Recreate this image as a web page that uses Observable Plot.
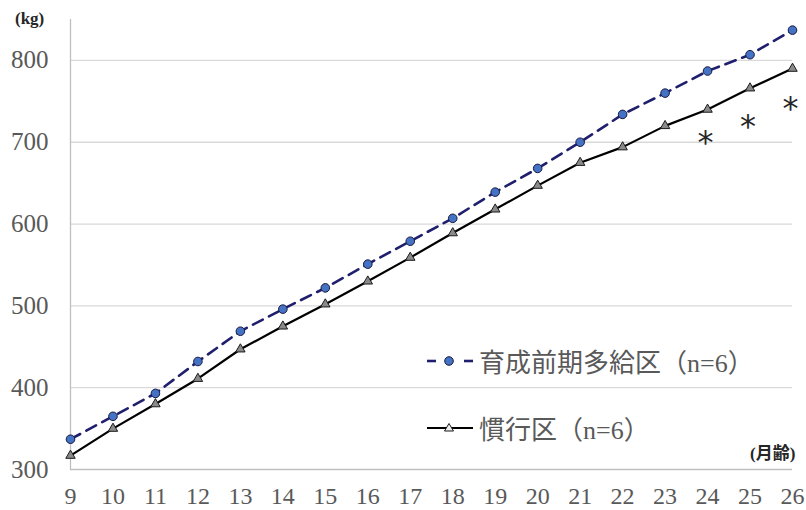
<!DOCTYPE html>
<html><head><meta charset="utf-8">
<script src="https://cdn.jsdelivr.net/npm/d3@7"></script>
<script src="https://cdn.jsdelivr.net/npm/@observablehq/plot@0.6"></script>
<style>
body{margin:0;background:#fff;}
#wrap{position:relative;width:806px;height:510px;overflow:hidden;}
.lab{position:absolute;font-weight:bold;color:#262626;white-space:nowrap;}
.leg{position:absolute;left:427px;display:flex;align-items:center;font-family:"Liberation Serif","Noto Sans CJK JP",serif;font-size:26px;color:#595959;white-space:nowrap;}
.leg svg{margin-right:6px;}
</style></head><body><div id="wrap"></div>
<script>
const months = [9,10,11,12,13,14,15,16,17,18,19,20,21,22,23,24,25,26];
const seriesNames = ["育成前期多給区（n=6）", "慣行区（n=6）"];
const weightHigh = [337,365,393,432,469,496,522,551,579,607,639,668,700,734,760,787,807,837];
const weightConv = [317,350,380,411,447,475,502,530,559,589,618,647,675,694,720,740,766,790];
const sigMonths = [24,25,26];
const sigY = [708,728,750];
const yTicks = [300,400,500,600,700,800];
const yLabel = "(kg)";
const xLabel = "(月齢)";

const dataHigh = months.map((m,i)=>({month:m, w:weightHigh[i]}));
const dataConv = months.map((m,i)=>({month:m, w:weightConv[i]}));
const sig = sigMonths.map((m,i)=>({month:m, w:sigY[i]}));

const navy = "#1f1f6e";
const plot = Plot.plot({
  width:806, height:510,
  marginLeft:70, marginRight:14, marginTop:19, marginBottom:41,
  x:{domain:[9,26], label:null},
  y:{domain:[300,850], label:null},
  style:{fontFamily:"'Liberation Serif', serif", background:"white"},
  marks:[
    Plot.gridY(yTicks.filter(d=>d>300), {stroke:"#d9d9d9", strokeOpacity:1, strokeWidth:1.3}),
    Plot.ruleY([300], {stroke:"#bfbfbf", strokeWidth:1.3}),
    Plot.ruleX([9], {y1:300, y2:850, stroke:"#bfbfbf", strokeWidth:1.3}),
    Plot.axisX({ticks:months, tickSize:0, tickPadding:17, tickFormat:d=>String(d), fontSize:24, fill:"#595959"}),
    Plot.axisY({ticks:yTicks, tickSize:0, tickPadding:22, tickFormat:d=>String(d), fontSize:25, fill:"#595959"}),
    Plot.lineY(dataHigh, {x:"month", y:"w", stroke:navy, strokeWidth:2.6, strokeDasharray:"11,7"}),
    Plot.lineY(dataConv, {x:"month", y:"w", stroke:"#000", strokeWidth:2.2}),
    Plot.dot(dataHigh, {x:"month", y:"w", r:4.3, fill:"#4472c4", stroke:"#1a1a40", strokeWidth:1}),
    Plot.dot(dataConv, {x:"month", y:"w", symbol:"triangle", r:3.5, fill:"#8a8a8a", stroke:"#1a1a1a", strokeWidth:1}),
    Plot.text(sig, {x:"month", y:"w", text:()=>"*", fontSize:32, dy:7, dx:-2, fill:"#262626", fontFamily:"'DejaVu Sans', sans-serif"})
  ]
});
const wrap = document.getElementById("wrap");
wrap.appendChild(plot);

function addLabel(txt, css, font, size){
  const d = document.createElement("div");
  d.className = "lab"; d.textContent = txt;
  d.style.cssText += css; d.style.fontFamily = font; d.style.fontSize = size;
  wrap.appendChild(d);
}
addLabel(yLabel, "left:15px;top:9px;", "'Liberation Serif', serif", "17px");
addLabel(xLabel, "left:750px;top:439px;", "'Liberation Serif','Noto Sans CJK JP', serif", "17px");

function legendRow(name, top, kind){
  const row = document.createElement("div");
  row.className = "leg"; row.style.top = top + "px";
  let s;
  if (kind === 0) {
    s = `<svg width="46" height="20"><line x1="0" y1="10" x2="9" y2="10" stroke="${navy}" stroke-width="2.6"/><line x1="37" y1="10" x2="46" y2="10" stroke="${navy}" stroke-width="2.6"/><circle cx="22" cy="10" r="4.3" fill="#4472c4" stroke="#1a1a40" stroke-width="1"/></svg>`;
  } else {
    s = `<svg width="46" height="20"><line x1="0" y1="10" x2="46" y2="10" stroke="#000" stroke-width="2.2"/><path d="M22,5.5 L26.5,13 L17.5,13 Z" fill="#eee" stroke="#1a1a1a" stroke-width="1"/></svg>`;
  }
  row.innerHTML = s + `<span>${name}</span>`;
  wrap.appendChild(row);
}
legendRow(seriesNames[0], 342, 0);
legendRow(seriesNames[1], 409, 1);
</script></body></html>
